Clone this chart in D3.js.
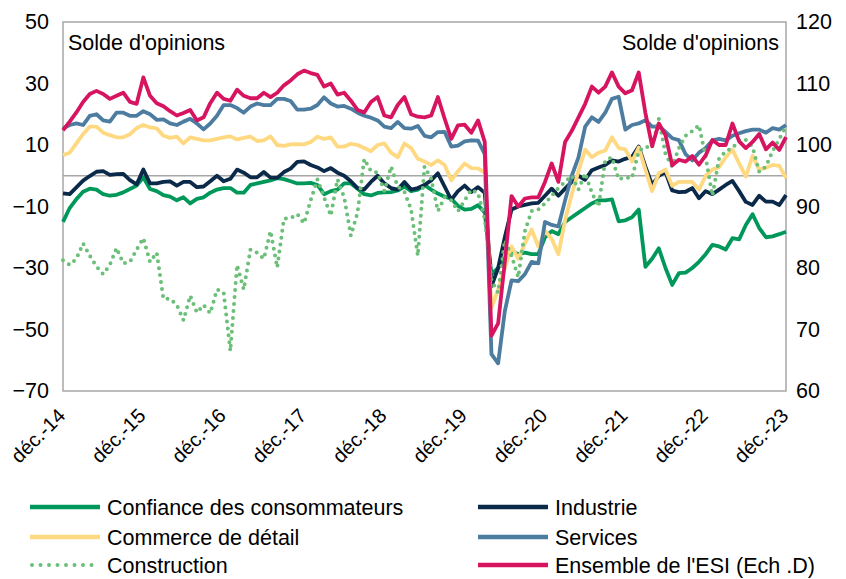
<!DOCTYPE html>
<html>
<head>
<meta charset="utf-8">
<script src="https://cdn.jsdelivr.net/npm/d3@7"></script>
<style>
  body { margin: 0; background: #fff; }
  svg text { font-family: "Liberation Sans", Arial, sans-serif; fill: #000; }
</style>
</head>
<body>
<div id="chart"></div>
<script>
// monthly series, déc. 2014 -> déc. 2023 (109 points)
const tickLabels = ["déc.-14", "déc.-15", "déc.-16", "déc.-17", "déc.-18", "déc.-19", "déc.-20", "déc.-21", "déc.-22", "déc.-23"];
const leftTicks = [-70, -50, -30, -10, 10, 30, 50];
const rightTicks = [60, 70, 80, 90, 100, 110, 120];

const confiance = [-15, -10.5, -7.6, -5.2, -4.2, -4.5, -6, -6.5, -6.2, -5.4, -4.3, -3.2, -0.5, -4.3, -5, -6.3, -6.8, -8, -7, -9,
  -7.5, -7, -5.5, -4.5, -4, -4, -5.5, -5.5, -3, -2.5, -2, -1.5, -0.8, -1.1, -1.8, -2.5, -2.5, -2.3, -3, -6,
  -5, -4.5, -2.5, -2.5, -4.2, -6, -6.4, -5.6, -5.4, -5.3, -4.8, -3.5, -5, -4.5, -3, -4.5, -5.8, -6.8, -7.5, -9.8,
  -11, -10.8, -9.6, -12, -32, -30, -27, -24.5, -25.5, -25, -25.5, -25.5, -20, -18, -19, -15, -13.5, -12, -10.5, -9,
  -8, -8, -7.7, -14.8, -14.5, -13.5, -11, -29.6, -27, -23.6, -30, -35.5, -31.7, -31.5, -30, -28, -25.5, -22.5, -23, -24,
  -20.3, -20.7, -16, -12.5, -17, -20, -19.7, -19, -18.2];

const industrie = [-5.7, -6, -3.8, -1.6, -0.1, 1.3, 1.5, 0.3, 0.5, 0.6, -1.4, -2.8, 2, -2.5, -2.5, -2, -1.8, -3.2, -2, -2,
  -3.7, -3.5, -1.8, 0, -1.8, -1, 2, 1, -0.5, -0.5, 1.2, -0.6, -0.7, 1.2, 2.3, 4.5, 4.7, 3.5, 2.7, 1.5,
  2.5, 1, 0, -1.8, -4, -4.5, -2, 0, -2.5, -4, -4.5, -2, -4.5, -4, -3, -1.5, 0.8, -3.5, -7.8, -5,
  -3.2, -5.3, -3.7, -5.5, -36, -30, -20, -11, -10, -9.5, -9, -8.8, -6.5, -4.2, -6.5, -4.2, -2, 0, -1.3, 1.8,
  2.7, 3.5, 5, 4.6, 5.5, 6.2, 9.5, 3, -3, 0, 1.2, -4.8, -5.3, -5.2, -4, -7.3, -5, -6, -4.5, -3,
  -1.7, -5, -8.5, -9.5, -6.5, -8.4, -8.4, -9.5, -6.3];

const commerce = [6.7, 7.5, 10.5, 13.5, 16, 16, 14, 13.2, 12.5, 12.5, 13.5, 15.5, 16.5, 15.7, 15.4, 13, 12.3, 12.7, 10.5, 12.5,
  12, 11.5, 11.5, 12, 12.5, 12.8, 11.8, 12.3, 12.7, 11.3, 11.5, 12.8, 10, 9.7, 10.2, 10.3, 10.2, 11, 12.7, 12,
  12.5, 9.5, 9.5, 10.4, 10, 9, 8, 10, 10.5, 7.5, 6, 10.5, 9, 5.5, 4.6, 3.5, 5, 3.5, -1.5, 1.5,
  4, 2.5, 2.4, 1, -43, -37, -30, -23, -27, -22, -17.5, -23, -18, -20.5, -25.5, -14.5, -6, 1.5, 8.5, 6,
  7.5, 8.2, 12.5, 9, 8.6, 4.6, 9.2, 2, -5, 0.8, 2, -3.3, -2, -2, -2, -4.5, 0, 2, 2.8, 6,
  8.5, 4, -0.3, 6.5, 2, 2.6, 3.5, 3.2, -0.8];

const services = [15.4, 16.5, 17, 16.5, 19.5, 20, 18, 17.6, 20.5, 20.5, 19.5, 19.5, 21, 20, 18.2, 18.3, 17, 16.5, 17.6, 18.5,
  17, 15.1, 17, 19.5, 23, 23, 22, 20.5, 22.5, 23.5, 23, 23, 25, 25, 24.3, 21.5, 21.5, 21.8, 23, 25.5,
  23.5, 22.5, 22.7, 21.8, 20.5, 19.5, 18.9, 18, 16, 15.5, 17.5, 15.5, 15.3, 16.2, 13, 12.5, 14.2, 14.3, 9.5, 9.8,
  11.2, 11.5, 11.4, 7, -58, -61, -44, -34, -34.3, -32, -28, -28.5, -15, -16, -16.5, -8, 0, 6, 16, 19,
  17.5, 20.5, 25, 25.7, 15, 16.5, 17, 18.1, 16, 16, 14.3, 12.2, 11.6, 7, 5, 7.5, 9, 11.5, 12, 11.5,
  13, 13.8, 14.5, 15, 15, 14, 15.5, 15, 16.5];

const construction = [-27.5, -29, -27, -22, -26, -29.5, -32, -29, -23.5, -28.5, -28, -24, -20.3, -28, -25, -40, -40, -42, -47, -39,
  -44.5, -42, -44.7, -37, -38, -57, -29, -37, -24, -25, -27, -18, -29.8, -14, -13.8, -12.5, -15.5, -8, -1.2, -7,
  -13, -1.2, -7, -19.5, -12, 5.5, 1.5, 1, -5, 3, -3.5, -5.2, -11, -26, 3, -1, -11.5, -7, -8, -11.5,
  -8, -4.5, -5.7, -14, -34, -38, -21, -26, -33, -18, -11.5, -11, -9, -6.5, -4, -2, 0, -4.5, 0.8, -5.5,
  -10, 5, 6, -1.2, -0.5, -0.8, 8, 9.5, 9, 18.5, 7, 3, 9, 13, 14.5, 16.5, 6, -6.5, 5.5, 8,
  9, 11.6, 11.6, 9.5, 1.3, 3, 8, 12, 16];

// Ensemble de l'ESI, right axis
const esi = [102.4, 103.8, 105.3, 107, 108.3, 108.8, 108.3, 107.5, 108, 108.5, 107, 106.7, 111, 108, 106.8, 106.3, 105.5, 104.8, 105.2, 105.7,
  104, 104.5, 106.8, 108.5, 107.5, 107.2, 109, 108, 107.6, 107.6, 108.5, 107.8, 108.5, 109.7, 110.5, 111.5, 112.1, 111.7, 111.4, 109.5,
  110, 108.2, 108.5, 107.2, 105.7, 105.3, 107, 107.8, 104.8, 104.5, 106.5, 107.8, 105, 104.6, 104.5, 104.8, 107.8, 104.3, 101, 103.2,
  103.3, 102, 104, 100.5, 69, 71, 81, 91.7, 90, 91.3, 91.5, 91.5, 94, 97, 94, 100.5, 102.3, 104.5, 106.7, 109.5,
  108.5, 109.5, 111.8, 109.5, 108.4, 108.9, 111.8, 105.2, 99.8, 103.5, 101.6, 96.7, 97.6, 97.3, 98.2, 96.8, 98.3, 100.8, 100, 100,
  103.5, 100.6, 99.5, 100.5, 101.8, 99.3, 100.4, 99.2, 101.3];

const width = 846;
const height = 579;
const fontSize = "21.5px";

const svg = d3.select("#chart")
  .append("svg")
  .attr("width", width)
  .attr("height", height);

// plot area
const plotLeft = 63, plotRight = 786, plotTop = 22, plotBottom = 391;

const x = d3.scaleLinear().domain([0, 108]).range([plotLeft, plotRight]);
const yL = d3.scaleLinear().domain([-70, 50]).range([plotBottom, plotTop]);
const yR = d3.scaleLinear().domain([60, 120]).range([plotBottom, plotTop]);

// frame
svg.append("rect")
  .attr("x", plotLeft).attr("y", plotTop)
  .attr("width", plotRight - plotLeft).attr("height", plotBottom - plotTop)
  .attr("fill", "none")
  .attr("stroke", "#a6a6a6")
  .attr("stroke-width", 1.5);

// zero line
svg.append("line")
  .attr("x1", plotLeft).attr("x2", plotRight)
  .attr("y1", yL(0)).attr("y2", yL(0))
  .attr("stroke", "#a6a6a6")
  .attr("stroke-width", 1.5);

// axes
const gLeft = svg.append("g")
  .attr("transform", `translate(${plotLeft},0)`)
  .call(d3.axisLeft(yL).tickValues(leftTicks).tickSize(0).tickPadding(14));
const gRight = svg.append("g")
  .attr("transform", `translate(${plotRight},0)`)
  .call(d3.axisRight(yR).tickValues(rightTicks).tickSize(0).tickPadding(10));
const gBottom = svg.append("g")
  .attr("transform", `translate(0,${plotBottom})`)
  .call(d3.axisBottom(x).tickValues(d3.range(0, 109, 12)).tickSize(0)
    .tickFormat((d, i) => tickLabels[i]));

[gLeft, gRight].forEach(g => {
  g.select(".domain").remove();
  g.selectAll("text").style("font-size", fontSize).attr("font-family", null);
});
gBottom.select(".domain").remove();

gBottom.selectAll("text")
  .style("font-size", "20px")
  .attr("font-family", null)
  .attr("text-anchor", "end")
  .attr("dy", null)
  .attr("y", 0)
  .attr("transform", "translate(3,26) rotate(-45)");

// titles
svg.append("text").attr("x", 68).attr("y", 50)
  .style("font-size", fontSize).text("Solde d'opinions");
svg.append("text").attr("x", 779).attr("y", 50)
  .attr("text-anchor", "end")
  .style("font-size", fontSize).text("Solde d'opinions");

// series, in drawing order
const series = [
  { name: "Confiance des consommateurs", values: confiance, color: "#00985a", y: yL },
  { name: "Industrie", values: industrie, color: "#0b2a4a", y: yL },
  { name: "Commerce de détail", values: commerce, color: "#ffd982", y: yL },
  { name: "Services", values: services, color: "#4c7c9f", y: yL },
  { name: "Construction", values: construction, color: "#6cbf78", y: yL, dotted: true },
  { name: "Ensemble de l'ESI (Ech .D)", values: esi, color: "#d6145f", y: yR }
];

const lines = svg.append("g");
series.forEach(s => {
  const line = d3.line()
    .x((d, i) => x(i))
    .y(d => s.y(d));
  const path = lines.append("path")
    .datum(s.values)
    .attr("fill", "none")
    .attr("stroke", s.color)
    .attr("stroke-width", s.dotted ? 4 : 3.8)
    .attr("stroke-linejoin", "round")
    .attr("d", line);
  if (s.dotted) {
    path.attr("stroke-dasharray", "0 7").attr("stroke-linecap", "round");
  }
});

// legend, two columns
const legendCols = [[0, 2, 4], [1, 3, 5]];
const colX = [30, 478];
const rowY = [507, 537, 565];
legendCols.forEach((col, c) => {
  col.forEach((k, r) => {
    const s = series[k];
    const g = svg.append("g").attr("transform", `translate(${colX[c]},${rowY[r]})`);
    const l = g.append("line")
      .attr("x1", 0).attr("x2", 70)
      .attr("stroke", s.color)
      .attr("stroke-width", s.dotted ? 4 : 4.5);
    if (s.dotted) l.attr("stroke-dasharray", "0 8.5").attr("stroke-linecap", "round").attr("x1", 2);
    g.append("text")
      .attr("x", 77).attr("dy", "0.35em")
      .style("font-size", fontSize)
      .text(s.name);
  });
});
</script>
</body>
</html>
